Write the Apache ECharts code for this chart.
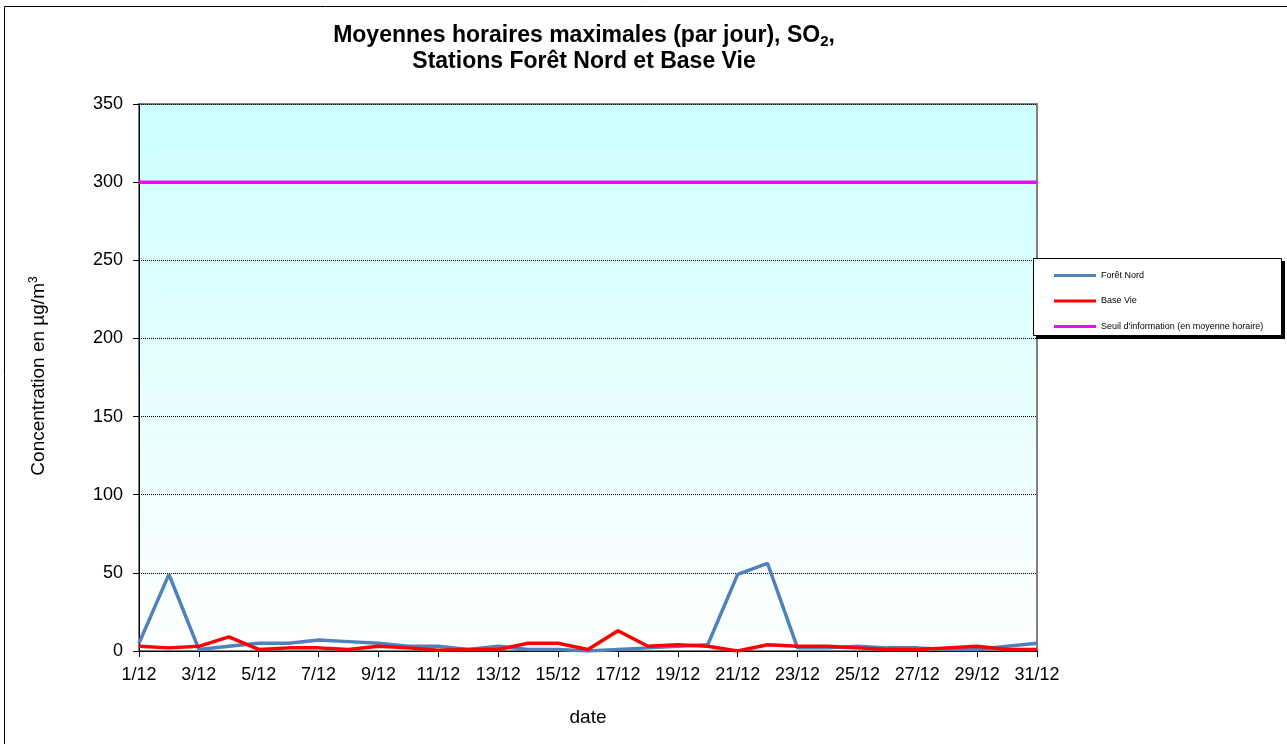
<!DOCTYPE html>
<html><head><meta charset="utf-8">
<script src="https://cdn.jsdelivr.net/npm/echarts@6/dist/echarts.min.js"></script>
<style>html,body{margin:0;padding:0;background:#fff}#c{width:1287px;height:744px}</style>
</head><body><div id="c"></div>
<script>
const dates = ['1/12','2/12','3/12','4/12','5/12','6/12','7/12','8/12','9/12','10/12','11/12','12/12','13/12','14/12','15/12','16/12','17/12','18/12','19/12','20/12','21/12','22/12','23/12','24/12','25/12','26/12','27/12','28/12','29/12','30/12','31/12'];
const foretNord = [5,49,1,3,5,5,7,6,5,3,3,1,3,1,1,0,1,2,3,4,49,56,2,2,3,2,2,1,1,3,5];
const baseVie = [3,2,3,9,1,2,2,1,3,2,0.5,1,1,5,5,1,13,3,4,3,0,4,3,3,2,1,1,2,3,1,1];
const seuil = [300,300,300,300,300,300,300,300,300,300,300,300,300,300,300,300,300,300,300,300,300,300,300,300,300,300,300,300,300,300,300];
const yTicks = [0,50,100,150,200,250,300,350];

const chart = echarts.init(document.getElementById('c'), null, {renderer:'canvas'});
const F = 'Liberation Sans, Arial, sans-serif';
chart.setOption({
  animation:false,
  backgroundColor:'#fff',
  title:{
    text:'{t|Moyennes horaires maximales (par jour), SO}{s|2}{t|,}\n{t|Stations Forêt Nord et Base Vie}',
    left:579, top:18, textAlign:'center',
    textStyle:{rich:{
      t:{fontFamily:F,fontWeight:'bold',fontSize:23,color:'#000',lineHeight:26},
      s:{fontFamily:F,fontWeight:'bold',fontSize:15,color:'#000',padding:[12,0,0,0],lineHeight:26}
    }}
  },
  graphic:[
    {type:'rect',shape:{x:4.5,y:6.5,width:1290,height:745},style:{fill:'none',stroke:'#000',lineWidth:1},z:-1},
    {type:'rect',shape:{x:1036,y:261,width:249,height:78},style:{fill:'#000'},z:1},
    {type:'rect',shape:{x:1033.5,y:258.5,width:248,height:77},style:{fill:'#fff',stroke:'#000',lineWidth:1},z:2},
    {type:'text',x:39,y:376,rotation:Math.PI/2,z:10,
      style:{text:'{a|Concentration en µg/m}{b|3}',align:'center',verticalAlign:'middle',
        rich:{a:{fontFamily:F,fontSize:19,fill:'#000'},b:{fontFamily:F,fontSize:12,fill:'#000',padding:[0,0,10,0]}}}}
  ],
  legend:{
    orient:'vertical', left:1049, top:266, itemGap:16.5, itemWidth:42, itemHeight:3,
    icon:'rect', z:10,
    textStyle:{fontFamily:F,fontSize:9,color:'#000'},
    data:['Forêt Nord','Base Vie',"Seuil d'information (en moyenne horaire)"]
  },
  grid:{
    left:139, top:104, right:250, bottom:93, show:true,
    borderColor:'#808080', borderWidth:2,
    backgroundColor:{type:'linear',x:0,y:0,x2:0,y2:1,colorStops:[{offset:0,color:'#ccffff'},{offset:1,color:'#ffffff'}]}
  },
  xAxis:{
    type:'category', data:dates, boundaryGap:false,
    name:'date', nameLocation:'middle', nameGap:57,
    nameTextStyle:{fontFamily:F,fontSize:19,color:'#000'},
    axisLine:{lineStyle:{color:'#000',width:1}},
    axisTick:{show:true,interval:1,length:6,lineStyle:{color:'#000'}},
    axisLabel:{interval:1,fontFamily:F,fontSize:18,color:'#000',margin:15},
    splitLine:{show:false}
  },
  yAxis:{
    type:'value', min:0, max:350, interval:50,
    axisLine:{show:true,lineStyle:{color:'#000',width:1}},
    axisTick:{show:true,length:6,lineStyle:{color:'#000'}},
    axisLabel:{fontFamily:F,fontSize:18,color:'#000',margin:16,
      formatter:function(v){return yTicks.indexOf(v)>=0?String(v):'';}},
    splitLine:{show:true,lineStyle:{color:'#000',type:[1,1],width:1}}
  },
  series:[
    {name:'Forêt Nord',type:'line',data:foretNord,symbol:'none',lineStyle:{color:'#4F81BD',width:3.5},itemStyle:{color:'#4F81BD'},z:3},
    {name:'Base Vie',type:'line',data:baseVie,symbol:'none',lineStyle:{color:'#FF0000',width:3.5},itemStyle:{color:'#FF0000'},z:4},
    {name:"Seuil d'information (en moyenne horaire)",type:'line',data:seuil,symbol:'none',lineStyle:{color:'#FF00FF',width:3.5},itemStyle:{color:'#FF00FF'},z:5}
  ]
});
</script></body></html>
